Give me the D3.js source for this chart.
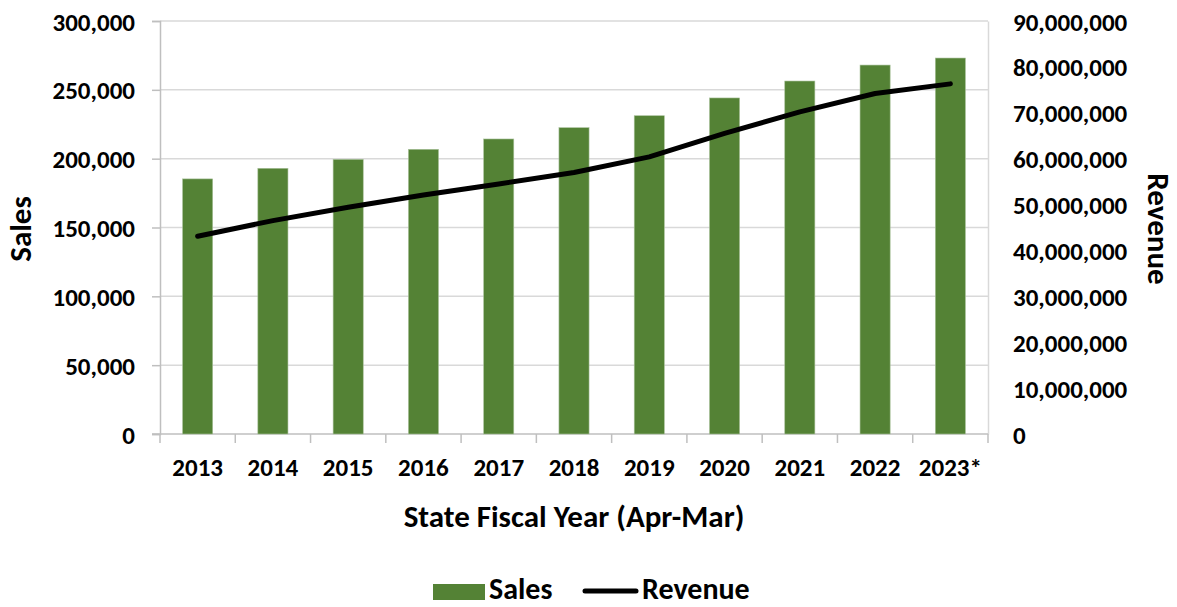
<!DOCTYPE html>
<html>
<head>
<meta charset="utf-8">
<script src="https://cdn.jsdelivr.net/npm/d3@7"></script>
<style>
  body { margin: 0; background: #fff; }
  svg text { font-family: Calibri, Carlito, Lato, sans-serif; font-weight: bold; fill: #000; }
</style>
</head>
<body>
<svg id="chart" width="1177" height="607"></svg>
<script>
// chart data
var years = ["2013", "2014", "2015", "2016", "2017", "2018", "2019", "2020", "2021", "2022", "2023*"];
var sales = [185300, 193000, 199500, 206800, 214300, 222500, 231200, 244100, 256400, 268000, 273100];
var revenue = [43100000, 46500000, 49400000, 52100000, 54500000, 57000000, 60400000, 65500000, 70200000, 74200000, 76300000];
var salesTicks = [0, 50000, 100000, 150000, 200000, 250000, 300000];
var revenueTicks = [0, 10000000, 20000000, 30000000, 40000000, 50000000, 60000000, 70000000, 80000000, 90000000];

var green = "#548235";
var plotLeft = 160, plotRight = 988, plotTop = 21, plotBottom = 434;

var svg = d3.select("#chart");
var fmt = d3.format(",");

var x = d3.scaleBand().domain(years).range([plotLeft, plotRight]);
var y = d3.scaleLinear().domain([0, 300000]).range([plotBottom, plotTop]);
var y2 = d3.scaleLinear().domain([0, 90000000]).range([plotBottom, plotTop]);

// gridlines
svg.append("g")
  .selectAll("line").data(salesTicks.slice(1)).enter().append("line")
  .attr("x1", plotLeft).attr("x2", plotRight)
  .attr("y1", function (d) { return y(d); })
  .attr("y2", function (d) { return y(d); })
  .attr("stroke", "#d9d9d9").attr("stroke-width", 1.5);

// left axis
var yAxis = svg.append("g")
  .attr("transform", "translate(" + plotLeft + ",0)")
  .call(d3.axisLeft(y).tickValues(salesTicks).tickFormat(fmt).tickSize(8).tickPadding(17));
yAxis.select(".domain").attr("stroke", "#bfbfbf").attr("stroke-width", 1.5);
yAxis.selectAll(".tick line").attr("stroke", "#bfbfbf").attr("stroke-width", 1.5);
yAxis.selectAll("text").style("font-size", "25px").attr("dy", "0.36em");

// right axis, no tick marks
var y2Axis = svg.append("g")
  .attr("transform", "translate(" + plotRight + ",0)")
  .call(d3.axisRight(y2).tickValues(revenueTicks).tickFormat(fmt).tickSize(0).tickPadding(25));
y2Axis.select(".domain").attr("stroke", "#d9d9d9").attr("stroke-width", 1.5);
y2Axis.selectAll("text").style("font-size", "25px").attr("dy", "0.36em");

// bottom axis, ticks between categories
var xAxis = svg.append("g")
  .attr("transform", "translate(0," + plotBottom + ")")
  .call(d3.axisBottom(x).tickSize(0).tickPadding(24));
xAxis.select(".domain").attr("stroke", "#bfbfbf").attr("stroke-width", 1.5)
  .attr("d", "M" + (plotLeft - 8) + ",0H" + plotRight);
xAxis.selectAll("text").style("font-size", "25px").attr("dy", "0.71em");

svg.append("g")
  .selectAll("line").data(years.concat(["end"])).enter().append("line")
  .attr("x1", function (d, i) { return plotLeft + i * x.bandwidth(); })
  .attr("x2", function (d, i) { return plotLeft + i * x.bandwidth(); })
  .attr("y1", plotBottom).attr("y2", plotBottom + 9)
  .attr("stroke", "#bfbfbf").attr("stroke-width", 1.5);

// bars
var barW = x.bandwidth() / 2.5;
svg.append("g")
  .selectAll("rect").data(sales).enter().append("rect")
  .attr("x", function (d, i) { return x(years[i]) + (x.bandwidth() - barW) / 2; })
  .attr("y", function (d) { return y(d); })
  .attr("width", barW)
  .attr("height", function (d) { return plotBottom - y(d); })
  .attr("fill", green)
  .attr("stroke", "#a9c19b").attr("stroke-width", 0.6);

// revenue line
var line = d3.line()
  .x(function (d, i) { return x(years[i]) + x.bandwidth() / 2; })
  .y(function (d) { return y2(d); });
svg.append("path")
  .datum(revenue)
  .attr("d", line)
  .attr("fill", "none")
  .attr("stroke", "#000")
  .attr("stroke-width", 5)
  .attr("stroke-linecap", "round")
  .attr("stroke-linejoin", "round");

// axis titles
svg.append("text")
  .attr("transform", "translate(31,229) rotate(-90)")
  .attr("text-anchor", "middle")
  .style("font-size", "31px")
  .text("Sales");

svg.append("text")
  .attr("transform", "translate(1148,229) rotate(90)")
  .attr("text-anchor", "middle")
  .style("font-size", "31px")
  .text("Revenue");

svg.append("text")
  .attr("x", 574).attr("y", 527)
  .attr("text-anchor", "middle")
  .style("font-size", "31px")
  .text("State Fiscal Year (Apr-Mar)");

// legend
var lg = svg.append("g");
lg.append("rect").attr("x", 433).attr("y", 584).attr("width", 52).attr("height", 16).attr("fill", green);
lg.append("text").attr("x", 489).attr("y", 599).style("font-size", "30px").text("Sales");
lg.append("line").attr("x1", 585).attr("x2", 636).attr("y1", 591).attr("y2", 591)
  .attr("stroke", "#000").attr("stroke-width", 5).attr("stroke-linecap", "round");
lg.append("text").attr("x", 642).attr("y", 599).style("font-size", "30px").text("Revenue");
</script>
</body>
</html>
